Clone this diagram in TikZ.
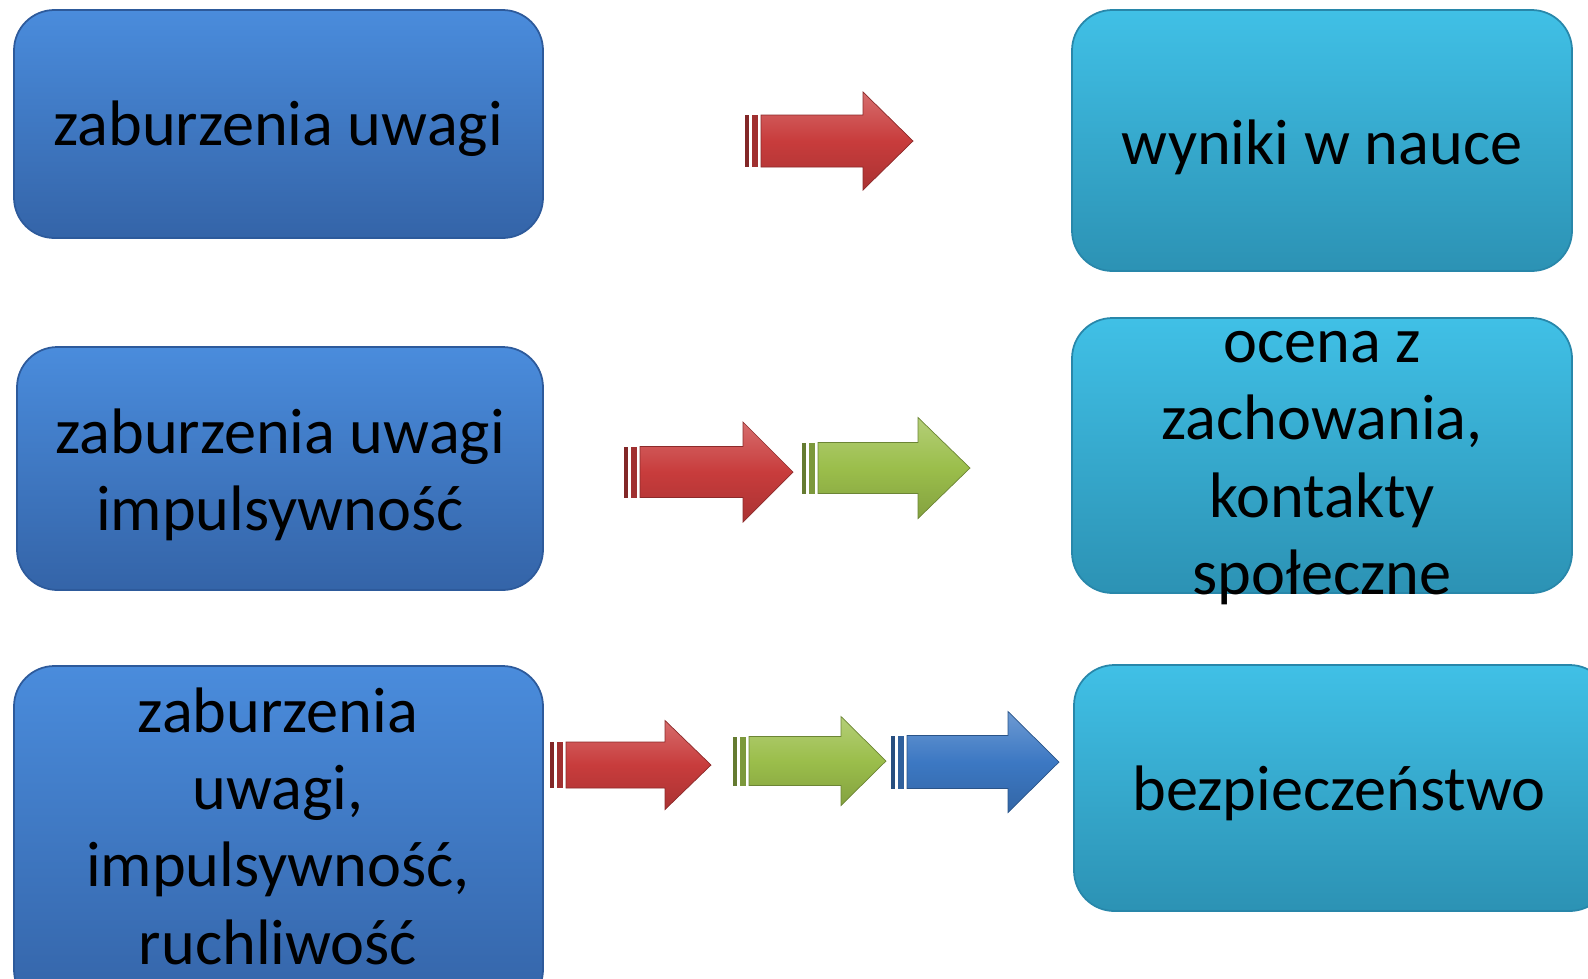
\documentclass[tikz,border=0pt]{standalone}
\usepackage{fontspec}
\setmainfont{Carlito}
\definecolor{lbTop}{RGB}{74,140,220}
\definecolor{lbBot}{RGB}{52,100,168}
\definecolor{lbEdge}{RGB}{45,90,155}
\definecolor{rbTop}{RGB}{64,192,230}
\definecolor{rbBot}{RGB}{44,146,180}
\definecolor{rbEdge}{RGB}{40,135,170}
\definecolor{arRed}{RGB}{200,60,60}
\definecolor{arGreen}{RGB}{155,190,75}
\definecolor{arBlue}{RGB}{60,120,195}
% #1 stripe start, #2 head base, #3 tip, #4 centre y, #5 body half height, #6 head half height, #7 colour
\newcommand\blockarr[7]{%
  \fill[#7!65!black] (#1,{#4-#5}) rectangle ({#1+4},{#4+#5});
  \fill[#7!80!black] ({#1+7},{#4-#5}) rectangle ({#1+13},{#4+#5});
  \shade[top color=#7!75!white, bottom color=#7!85!black, middle color=#7, draw=#7!70!black, line width=0.4pt]
    ({#1+16},{#4-#5}) -- (#2,{#4-#5}) -- (#2,{#4-#6}) -- (#3,#4) -- (#2,{#4+#6}) -- (#2,{#4+#5}) -- ({#1+16},{#4+#5}) -- cycle;
}
\tikzset{
  lbox/.style={draw=lbEdge, line width=1pt, rounded corners=23pt, top color=lbTop, bottom color=lbBot},
  rbox/.style={draw=rbEdge, line width=1pt, rounded corners=23pt, top color=rbTop, bottom color=rbBot},
  txt/.style={align=center, font=\fontsize{36.6}{44}\selectfont, text=black, inner sep=0pt}
}
\begin{document}
\begin{tikzpicture}[x=0.02cm,y=-0.02cm]
\useasboundingbox (0,0) rectangle (1588,978);
\clip (0,0) rectangle (1588,978);
% boxes
\draw[lbox] (14,10) rectangle (543,238);
\draw[lbox] (17,347) rectangle (543,590);
\draw[lbox] (14,666) rectangle (543,1010);
\draw[rbox] (1072,10) rectangle (1572,271);
\draw[rbox] (1072,318) rectangle (1572,593);
\draw[rbox] (1074,665) rectangle (1610,911);
% texts
\node[txt] (b1) at (278,129) {zaburzenia uwagi};
\node[txt] (b2) at (280,475) {zaburzenia uwagi\\impulsywność};
\node[txt] (b3) at (278,826) {zaburzenia\\uwagi,\\impulsywność,\\ruchliwość};
\node[txt] (r1) at (1322,147) {wyniki w nauce};
\node[txt] (r2) at (1322,468) {ocena z\\zachowania,\\kontakty\\społeczne};
\node[txt] (r3) at (1339,793) {bezpieczeństwo};
% arrows
\blockarr{745}{863}{913}{141}{26}{49}{arRed}
\blockarr{624}{743}{793}{472}{25.5}{50}{arRed}
\blockarr{802}{918}{970}{468}{25.5}{50.5}{arGreen}
\blockarr{550}{665}{711}{765}{23}{44.5}{arRed}
\blockarr{733}{841}{886}{761}{24.5}{44.5}{arGreen}
\blockarr{891}{1008}{1059}{762}{26.5}{50.5}{arBlue}
\end{tikzpicture}
\end{document}
